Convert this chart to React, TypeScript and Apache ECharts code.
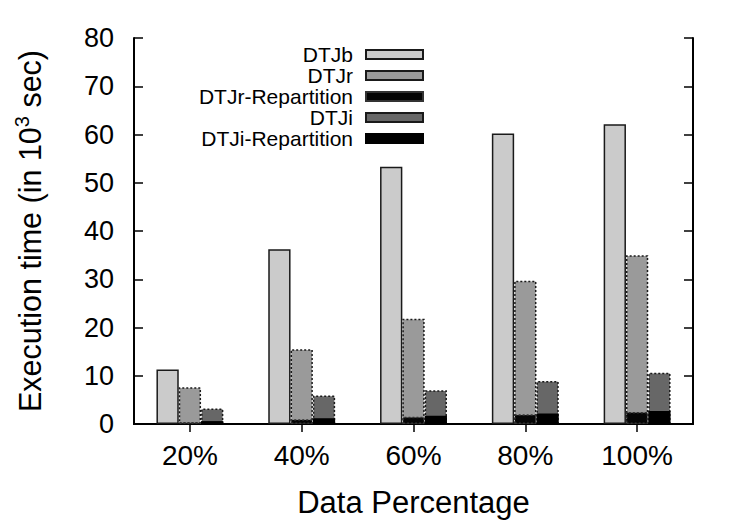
import React, { useEffect, useRef } from "react";
import * as echarts from "echarts";

const categories = ["20%", "40%", "60%", "80%", "100%"];
const dtjb = [11.3, 36.2, 53.3, 60.2, 62.1];
const dtjr = [7.6, 15.5, 21.8, 29.7, 35.0];
const dtjrRepartition = [0.4, 1.0, 1.5, 2.0, 2.5];
const dtji = [3.2, 5.9, 7.0, 8.9, 10.6];
const dtjiRepartition = [0.6, 1.2, 1.7, 2.2, 2.7];
const yTicks = { min: 0, max: 80, interval: 10 };

const FONT = "'Liberation Sans', Arial, Helvetica, sans-serif";
const BAR_W = 22.3;

export default function App() {
  const ref = useRef<HTMLDivElement>(null);

  useEffect(() => {
    if (!ref.current) return;
    const chart = echarts.init(ref.current, undefined, { renderer: "svg" });

    const axisLine = { show: true, lineStyle: { color: "#000", width: 2 } };

    const option: any = {
      animation: false,
      backgroundColor: "#fff",
      textStyle: { fontFamily: FONT, color: "#000" },
      grid: { left: 134, right: 57, top: 38, bottom: 101 },
      legend: {
        orient: "vertical",
        right: 321,
        top: 39,
        align: "right",
        icon: "rect",
        itemWidth: 57,
        itemHeight: 9,
        itemGap: 0,
        selectedMode: false,
        data: ["DTJb", "DTJr", "DTJr-Repartition", "DTJi", "DTJi-Repartition"],
        textStyle: {
          fontFamily: FONT,
          fontSize: 21,
          lineHeight: 19,
          color: "#000",
          padding: [0, 8, 0, 0],
        },
      },
      xAxis: [
        {
          type: "category",
          data: categories,
          position: "bottom",
          axisLine,
          axisTick: { show: true, inside: true, alignWithLabel: true, length: 8, lineStyle: { color: "#000", width: 1.5 } },
          axisLabel: { fontFamily: FONT, fontSize: 28, color: "#000", margin: 17 },
          name: "Data Percentage",
          nameLocation: "middle",
          nameGap: 63,
          nameTextStyle: { fontFamily: FONT, fontSize: 31, color: "#000" },
        },
        {
          type: "category",
          data: categories,
          position: "top",
          axisLine,
          axisTick: { show: true, inside: true, alignWithLabel: true, length: 8, lineStyle: { color: "#000", width: 1.5 } },
          axisLabel: { show: false },
        },
      ],
      yAxis: [
        {
          type: "value",
          position: "left",
          ...yTicks,
          axisLine,
          splitLine: { show: false },
          axisTick: { show: true, inside: true, length: 9, lineStyle: { color: "#000", width: 1.5 } },
          axisLabel: { fontFamily: FONT, fontSize: 27, color: "#000", margin: 20 },
          name: "{a|Execution time (in 10}{s|3}{a| sec)}",
          nameLocation: "middle",
          nameGap: 86,
          nameTextStyle: {
            rich: {
              a: { fontFamily: FONT, fontSize: 30.5, color: "#000", lineHeight: 36 },
              s: { fontFamily: FONT, fontSize: 20, color: "#000", lineHeight: 20, verticalAlign: "top" },
            },
          },
        },
        {
          type: "value",
          position: "right",
          ...yTicks,
          axisLine,
          splitLine: { show: false },
          axisTick: { show: true, inside: true, length: 9, lineStyle: { color: "#000", width: 1.5 } },
          axisLabel: { show: false },
        },
      ],
      series: [
        {
          name: "DTJb",
          type: "bar",
          xAxisIndex: 0,
          yAxisIndex: 0,
          data: dtjb,
          barWidth: BAR_W,
          barGap: "0%",
          itemStyle: { color: "#cbcbcb", borderColor: "#1a1a1a", borderWidth: 1.5 },
        },
        {
          name: "DTJr",
          type: "bar",
          xAxisIndex: 0,
          yAxisIndex: 0,
          data: dtjr,
          barWidth: BAR_W,
          barGap: "0%",
          itemStyle: { color: "#9a9a9a", borderColor: "#1a1a1a", borderWidth: 1.5, borderType: [2, 2] },
        },
        {
          name: "DTJi",
          type: "bar",
          xAxisIndex: 0,
          yAxisIndex: 0,
          data: dtji,
          barWidth: BAR_W,
          barGap: "0%",
          itemStyle: { color: "#676767", borderColor: "#1a1a1a", borderWidth: 1.5, borderType: [2, 2] },
        },
        // empty first slot so the repartition bars sit over DTJr and DTJi
        {
          name: "slot",
          type: "bar",
          xAxisIndex: 1,
          yAxisIndex: 0,
          data: categories.map(() => "-"),
          barWidth: BAR_W,
          barGap: "0%",
        },
        {
          name: "DTJr-Repartition",
          type: "bar",
          xAxisIndex: 1,
          yAxisIndex: 0,
          data: dtjrRepartition,
          barWidth: BAR_W,
          barGap: "0%",
          itemStyle: { color: "#050505", borderColor: "#333", borderWidth: 1.5, borderType: [2, 2] },
        },
        {
          name: "DTJi-Repartition",
          type: "bar",
          xAxisIndex: 1,
          yAxisIndex: 0,
          data: dtjiRepartition,
          barWidth: BAR_W,
          barGap: "0%",
          itemStyle: { color: "#000", borderColor: "#000", borderWidth: 1.5 },
        },
      ],
    };

    chart.setOption(option);
    return () => chart.dispose();
  }, []);

  return (
    <div
      ref={ref}
      style={{ position: "fixed", left: 0, top: 0, width: 750, height: 525, background: "#fff" }}
    />
  );
}
